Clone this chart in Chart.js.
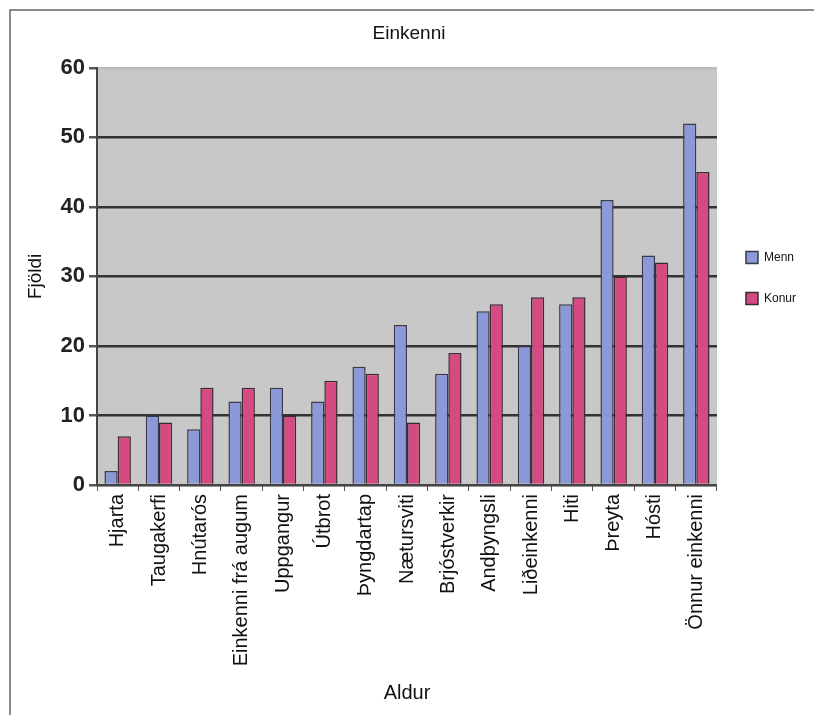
<!DOCTYPE html>
<html lang="is">
  <head>
    <meta charset="UTF-8" />
    <title>Einkenni</title>
    <style>
      html, body { margin: 0; padding: 0; background: #fff; }
      #wrap { width: 814px; height: 715px; }
    </style>
  </head>
  <body>
    <div id="wrap"><canvas id="bar"></canvas></div>
    <script src="https://cdn.jsdelivr.net/npm/chart.js"></script>
    <script>
      const categories = [
        "Hjarta", "Taugakerfi", "Hnútarós", "Einkenni frá augum", "Uppgangur",
        "Útbrot", "Þyngdartap", "Nætursviti", "Brjóstverkir", "Andþyngsli",
        "Liðeinkenni", "Hiti", "Þreyta", "Hósti", "Önnur einkenni",
      ];
      const menn = [2, 10, 8, 12, 14, 12, 17, 23, 16, 25, 20, 26, 41, 33, 52];
      const konur = [7, 9, 14, 14, 10, 15, 16, 9, 19, 26, 27, 27, 30, 32, 45];
      const yTicks = [0, 10, 20, 30, 40, 50, 60];

      const fontFam = "'Liberation Sans', Arial, sans-serif";

      // grey plot area + outer frame
      const backdrop = {
        id: "backdrop",
        beforeDraw(chart) {
          const { ctx, chartArea: a } = chart;
          ctx.save();
          ctx.fillStyle = "#c8c8c8";
          ctx.fillRect(a.left, a.top, a.right - a.left, a.bottom - a.top);
          ctx.strokeStyle = "#666";
          ctx.lineWidth = 1.5;
          ctx.beginPath();
          ctx.moveTo(10, 715);
          ctx.lineTo(10, 10);
          ctx.lineTo(814, 10);
          ctx.stroke();
          ctx.restore();
        },
      };

      const ctx = document.getElementById("bar");
      const chart = new Chart(ctx, {
        type: "bar",
        data: {
          labels: categories,
          datasets: [
            {
              label: "Menn",
              data: menn,
              backgroundColor: "#8c99d8",
              borderColor: "#3a3a4a",
              borderWidth: 1.5,
            },
            {
              label: "Konur",
              data: konur,
              backgroundColor: "#d64a82",
              borderColor: "#3a2a33",
              borderWidth: 1.5,
            },
          ],
        },
        plugins: [backdrop],
        options: {
          responsive: true,
          maintainAspectRatio: false,
          animation: false,
          layout: { padding: { left: 12, right: 8, top: 0, bottom: 6 } },
          datasets: { bar: { categoryPercentage: 0.64, barPercentage: 1 } },
          plugins: {
            title: {
              display: true,
              text: "Einkenni",
              color: "#111",
              font: { family: fontFam, size: 19, weight: "normal" },
              padding: { top: 22, bottom: 23 },
            },
            legend: {
              position: "right",
              align: "start",
              title: {
                display: true,
                text: " ",
                font: { size: 12 },
                padding: { top: 208, bottom: 0 },
              },
              labels: {
                color: "#111",
                boxWidth: 12,
                boxHeight: 12,
                padding: 29,
                font: { family: fontFam, size: 12 },
              },
            },
            tooltip: { enabled: false },
          },
          scales: {
            x: {
              grid: {
                offset: true,
                drawOnChartArea: false,
                color: "#555",
                tickLength: 6,
              },
              border: { color: "#444", width: 2 },
              ticks: {
                minRotation: 90,
                maxRotation: 90,
                color: "#111",
                autoSkip: false,
                font: { family: fontFam, size: 20 },
              },
              title: {
                display: true,
                text: "Aldur",
                color: "#111",
                font: { family: fontFam, size: 20 },
              },
              afterFit(scale) { scale.height = 224; },
            },
            y: {
              min: 0,
              max: 60,
              afterBuildTicks(scale) {
                scale.ticks = yTicks.map((v) => ({ value: v }));
              },
              grid: {
                color: (c) => (c.tick.value === 60 ? "#bbb" : "#333"),
                lineWidth: 2.5,
                tickLength: 8,
                tickColor: "#555",
              },
              border: { color: "#444", width: 2 },
              ticks: {
                color: "#222",
                padding: 4,
                font: { family: fontFam, size: 22, weight: "bold" },
              },
              title: {
                display: true,
                text: "Fjöldi",
                color: "#111",
                font: { family: fontFam, size: 19 },
                padding: { top: 12, bottom: 4 },
              },
              afterFit(scale) { scale.width = 85; },
            },
          },
        },
      });
    </script>
  </body>
</html>
